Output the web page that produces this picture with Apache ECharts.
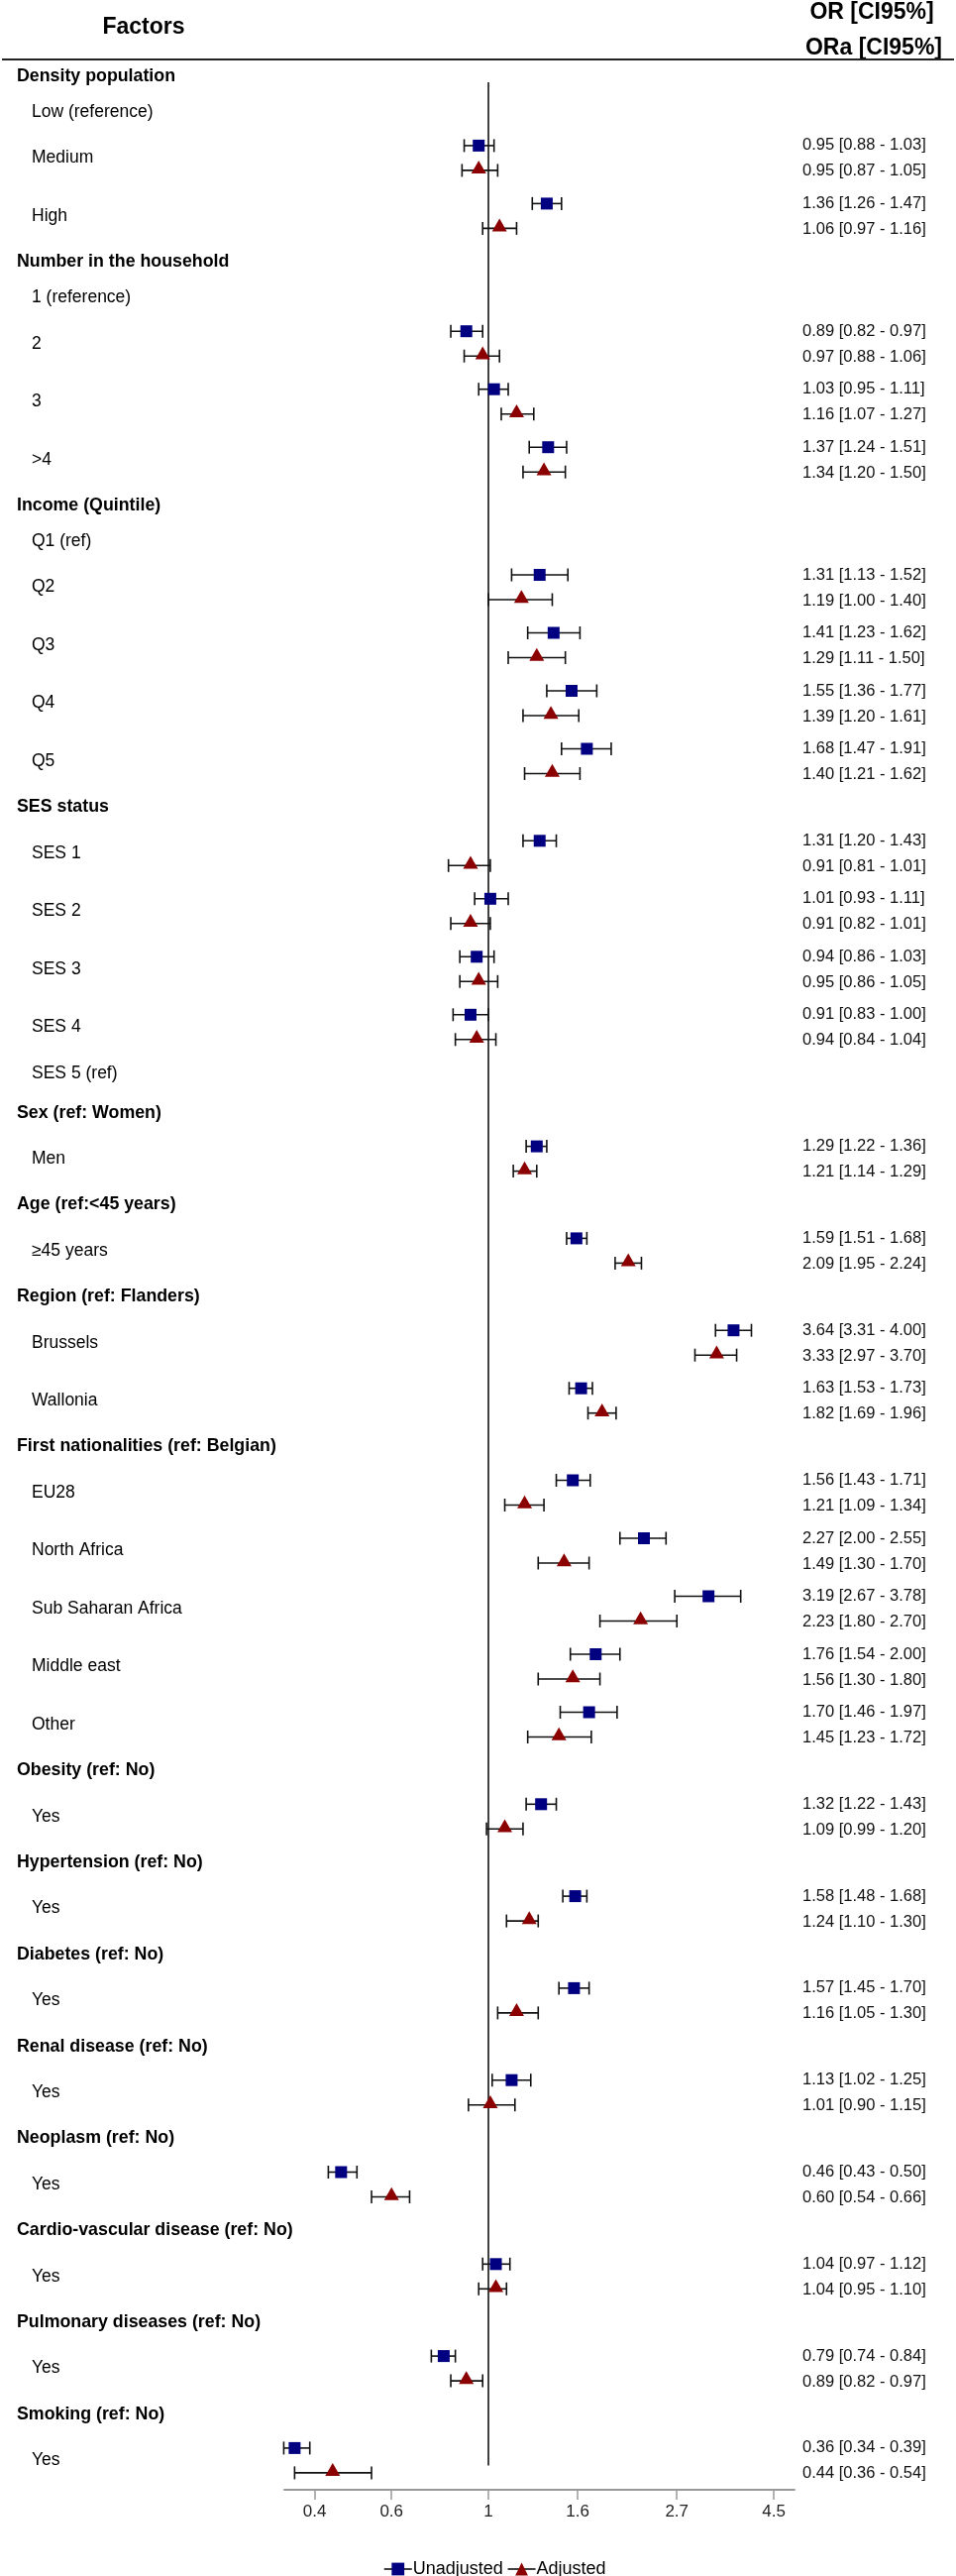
<!DOCTYPE html>
<html>
<head>
<meta charset="utf-8">
<script src="https://cdn.jsdelivr.net/npm/echarts@6/dist/echarts.min.js"></script>
<style>html,body{margin:0;padding:0;background:#fff}#c{width:965px;height:2599px}</style>
</head>
<body>
<div id="c"></div>
<script>
// ---------- DATA ----------
const rowLabels = [
  'Density population','Low (reference)','Medium','High',
  'Number in the household','1 (reference)','2','3','>4',
  'Income (Quintile)','Q1 (ref)','Q2','Q3','Q4','Q5',
  'SES status','SES 1','SES 2','SES 3','SES 4','SES 5 (ref)',
  'Sex (ref: Women)','Men',
  'Age (ref:<45 years)','\u226545 years',
  'Region (ref: Flanders)','Brussels','Wallonia',
  'First nationalities (ref: Belgian)','EU28','North Africa','Sub Saharan Africa','Middle east','Other',
  'Obesity (ref: No)','Yes',
  'Hypertension (ref: No)','Yes',
  'Diabetes (ref: No)','Yes',
  'Renal disease (ref: No)','Yes',
  'Neoplasm (ref: No)','Yes',
  'Cardio-vascular disease (ref: No)','Yes',
  'Pulmonary diseases (ref: No)','Yes',
  'Smoking (ref: No)','Yes'
];
// h = group header, r = reference level, m = estimated level
const rowKinds = [
  'h','r','m','m',
  'h','r','m','m','m',
  'h','r','m','m','m','m',
  'h','m','m','m','m','r',
  'h','m',
  'h','m',
  'h','m','m',
  'h','m','m','m','m','m',
  'h','m','h','m','h','m','h','m','h','m','h','m','h','m','h','m'
];
const orU = [0.95,1.36, 0.89,1.03,1.37, 1.31,1.41,1.55,1.68, 1.31,1.01,0.94,0.91, 1.29, 1.59, 3.64,1.63, 1.56,2.27,3.19,1.76,1.70, 1.32,1.58,1.57,1.13,0.46,1.04,0.79,0.36];
const loU = [0.88,1.26, 0.82,0.95,1.24, 1.13,1.23,1.36,1.47, 1.20,0.93,0.86,0.83, 1.22, 1.51, 3.31,1.53, 1.43,2.00,2.67,1.54,1.46, 1.22,1.48,1.45,1.02,0.43,0.97,0.74,0.34];
const hiU = [1.03,1.47, 0.97,1.11,1.51, 1.52,1.62,1.77,1.91, 1.43,1.11,1.03,1.00, 1.36, 1.68, 4.00,1.73, 1.71,2.55,3.78,2.00,1.97, 1.43,1.68,1.70,1.25,0.50,1.12,0.84,0.39];
const orA = [0.95,1.06, 0.97,1.16,1.34, 1.19,1.29,1.39,1.40, 0.91,0.91,0.95,0.94, 1.21, 2.09, 3.33,1.82, 1.21,1.49,2.23,1.56,1.45, 1.09,1.24,1.16,1.01,0.60,1.04,0.89,0.44];
const loA = [0.87,0.97, 0.88,1.07,1.20, 1.00,1.11,1.20,1.21, 0.81,0.82,0.86,0.84, 1.14, 1.95, 2.97,1.69, 1.09,1.30,1.80,1.30,1.23, 0.99,1.10,1.05,0.90,0.54,0.95,0.82,0.36];
const hiA = [1.05,1.16, 1.06,1.27,1.50, 1.40,1.50,1.61,1.62, 1.01,1.01,1.05,1.04, 1.29, 2.24, 3.70,1.96, 1.34,1.70,2.70,1.80,1.72, 1.20,1.30,1.30,1.15,0.66,1.10,0.97,0.54];
const tickValues = [0.4, 0.6, 1, 1.6, 2.7, 4.5];
const seriesNames = ['Unadjusted', 'Adjusted'];
const headerLeft = 'Factors';
const headerRight = ['OR [CI95%]', 'ORa [CI95%]'];

// ---------- LAYOUT ----------
const FONT = '"Liberation Sans", Arial, sans-serif';
const BLUE = '#000080', RED = '#8b0000';
const rowY = [];
(function () {
  let y = 77;
  rowKinds.forEach(function (k, i) {
    if (i > 0) {
      const p = rowKinds[i - 1];
      if (p === 'h' && k === 'r') y += 36;
      else if (p === 'r' && k === 'h') y += 40;
      else if (p === 'm' && k === 'm') y += 58.5;
      else y += 46.4;
    }
    rowY.push(y);
  });
})();
const estRowY = rowY.filter(function (_, i) { return rowKinds[i] === 'm'; });
const OFF = 12.5;
const f2 = function (v) { return v.toFixed(2); };

const dataU = estRowY.map(function (y, i) { return [orU[i], y, loU[i], hiU[i]]; });
const dataA = estRowY.map(function (y, i) { return [orA[i], y, loA[i], hiA[i]]; });

function whisker(dy) {
  return function (params, api) {
    const yv = api.value(1);
    const pl = api.coord([api.value(2), yv]);
    const ph = api.coord([api.value(3), yv]);
    const yy = pl[1] + dy;
    const st = { stroke: '#111', lineWidth: 1.6 };
    return {
      type: 'group',
      children: [
        { type: 'line', shape: { x1: pl[0], y1: yy, x2: ph[0], y2: yy }, style: st },
        { type: 'line', shape: { x1: pl[0], y1: yy - 6.5, x2: pl[0], y2: yy + 6.5 }, style: st },
        { type: 'line', shape: { x1: ph[0], y1: yy - 6.5, x2: ph[0], y2: yy + 6.5 }, style: st }
      ]
    };
  };
}

const chart = echarts.init(document.getElementById('c'), null, { renderer: 'canvas' });
const option = {
  animation: false,
  backgroundColor: '#fff',
  grid: { left: 287, right: 163, top: 0, height: 2512 },
  xAxis: {
    type: 'log',
    logBase: Math.E,
    min: 0.341,
    max: 5.02,
    position: 'bottom',
    splitLine: { show: false },
    axisLine: { show: true, onZero: false, lineStyle: { color: '#999', width: 2 } },
    axisTick: { show: true, customValues: tickValues, length: 10, lineStyle: { color: '#999', width: 1.5 } },
    axisLabel: {
      customValues: tickValues, fontSize: 17, fontFamily: FONT, color: '#222', margin: 14,
      formatter: function (v) { return String(+(+v).toFixed(1)); }
    }
  },
  yAxis: { type: 'value', min: 0, max: 2512, inverse: true, show: false },
  legend: {
    data: seriesNames,
    left: 382, top: 2578,
    itemWidth: 28, itemHeight: 16, itemGap: 4,
    lineStyle: { color: '#000', width: 1.5, opacity: 1 },
    textStyle: { fontSize: 18, fontFamily: FONT, color: '#000', padding: [0, 0, 0, -4] },
    selectedMode: false
  },
  graphic: [
    { type: 'text', x: 145, y: 28, style: { text: headerLeft, font: 'bold 23px ' + FONT, fill: '#000', align: 'center', verticalAlign: 'middle' } },
    { type: 'text', x: 880, y: 13, style: { text: headerRight[0], font: 'bold 23px ' + FONT, fill: '#000', align: 'center', verticalAlign: 'middle' } },
    { type: 'text', x: 882, y: 49, style: { text: headerRight[1], font: 'bold 23px ' + FONT, fill: '#000', align: 'center', verticalAlign: 'middle' } },
    { type: 'line', shape: { x1: 2, y1: 60, x2: 963, y2: 60 }, style: { stroke: '#222', lineWidth: 2 } }
  ],
  series: [
    {
      type: 'line', name: seriesNames[0],
      data: dataU.map(function (d) { return [d[0], d[1]]; }),
      symbol: 'rect', symbolSize: 12, symbolOffset: [0, -OFF], showSymbol: true, showAllSymbol: true,
      lineStyle: { opacity: 0, width: 0 }, itemStyle: { color: BLUE }, z: 5, silent: true,
      emphasis: { disabled: true }
    },
    {
      type: 'line', name: seriesNames[1],
      data: dataA.map(function (d) { return [d[0], d[1]]; }),
      symbol: 'triangle', symbolSize: [15, 13], symbolOffset: [0, OFF - 3.3], showSymbol: true, showAllSymbol: true,
      lineStyle: { opacity: 0, width: 0 }, itemStyle: { color: RED }, z: 5, silent: true,
      emphasis: { disabled: true }
    },
    {
      type: 'custom', name: 'ciU', data: dataU, encode: { x: [0, 2, 3], y: 1 },
      renderItem: whisker(-OFF), z: 3, silent: true
    },
    {
      type: 'custom', name: 'ciA', data: dataA, encode: { x: [0, 2, 3], y: 1 },
      renderItem: whisker(OFF), z: 3, silent: true
    },
    {
      // reference line at OR = 1
      type: 'custom', name: 'ref', data: [[1, rowY[0] + 6, rowY[rowY.length - 1] + 5]],
      encode: { x: 0, y: [1, 2] }, z: 2, silent: true,
      renderItem: function (params, api) {
        const a = api.coord([api.value(0), api.value(1)]);
        const b = api.coord([api.value(0), api.value(2)]);
        return { type: 'line', shape: { x1: a[0], y1: a[1], x2: b[0], y2: b[1] }, style: { stroke: '#222', lineWidth: 1.7 } };
      }
    },
    {
      // factor labels
      type: 'custom', name: 'labels', data: rowY.map(function (y) { return [1, y]; }),
      encode: { x: 0, y: 1 }, silent: true,
      renderItem: function (params, api) {
        const i = params.dataIndex;
        const p = api.coord([api.value(0), api.value(1)]);
        const isH = rowKinds[i] === 'h';
        return {
          type: 'text', x: isH ? 17 : 32, y: p[1],
          style: { text: rowLabels[i], font: (isH ? 'bold 17.8px ' : '17.5px ') + FONT, fill: '#000', align: 'left', verticalAlign: 'middle' }
        };
      }
    },
    {
      // OR text column
      type: 'custom', name: 'values', data: estRowY.map(function (y) { return [1, y]; }),
      encode: { x: 0, y: 1 }, silent: true,
      renderItem: function (params, api) {
        const i = params.dataIndex;
        const p = api.coord([api.value(0), api.value(1)]);
        const st = { font: '16.5px ' + FONT, fill: '#111', align: 'left', verticalAlign: 'middle' };
        return {
          type: 'group',
          children: [
            { type: 'text', x: 810, y: p[1] - OFF, style: Object.assign({ text: f2(orU[i]) + ' [' + f2(loU[i]) + ' - ' + f2(hiU[i]) + ']' }, st) },
            { type: 'text', x: 810, y: p[1] + OFF + 1, style: Object.assign({ text: f2(orA[i]) + ' [' + f2(loA[i]) + ' - ' + f2(hiA[i]) + ']' }, st) }
          ]
        };
      }
    }
  ]
};
chart.setOption(option);
</script>
</body>
</html>
